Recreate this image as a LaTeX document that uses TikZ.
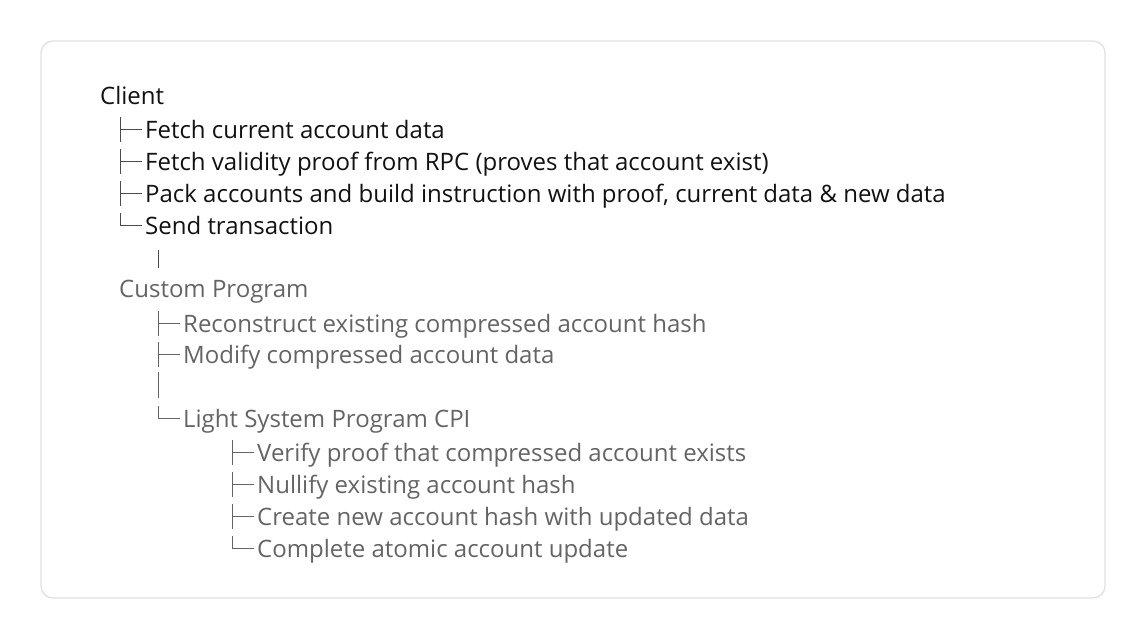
\documentclass[tikz,border=0pt]{standalone}
\usepackage{fontspec}
\setmainfont{Open Sans}
\usetikzlibrary{positioning}
\definecolor{treeink}{HTML}{111111}
\definecolor{treegray}{HTML}{646464}
\definecolor{treeframe}{HTML}{E0E0E0}
\newcommand{\rowfont}{\fontsize{24}{28}\selectfont}

\begin{document}
\begin{tikzpicture}[x=1pt,y=-1pt,
  frame/.style={draw=treeframe,line width=1.3pt,rounded corners=12pt,minimum width=1064pt,minimum height=557pt,inner sep=0pt},
  row/.style={anchor=base west,inner sep=0pt,font=\rowfont,text=#1},
  branch/.style={draw=#1,line width=0.9pt}
]
\useasboundingbox (0,0) rectangle (1146,639);
\node[frame] (box) at (573,319.5) {};
% client side
\node[row=treeink] (cl) at (100,104.5) {Client};
\node[row=treeink] (c1) at (145,138.5) {Fetch current account data};
\node[row=treeink] (c2) at (145,170.5) {Fetch validity proof from RPC (proves that account exist)};
\node[row=treeink] (c3) at (145,202.5) {Pack accounts and build instruction with proof, current data \& new data};
\node[row=treeink] (c4) at (145,234.5) {Send transaction};
% program side
\node[row=treegray] (cp) at (119,297.5) {Custom Program};
\node[row=treegray] (p1) at (183,332.5) {Reconstruct existing compressed account hash};
\node[row=treegray] (p2) at (183,363.5) {Modify compressed account data};
\node[row=treegray] (ls) at (183,427.5) {Light System Program CPI};
\node[row=treegray] (s1) at (257,461.5) {Verify proof that compressed account exists};
\node[row=treegray] (s2) at (257,493.5) {Nullify existing account hash};
\node[row=treegray] (s3) at (257,525.5) {Create new account hash with updated data};
\node[row=treegray] (s4) at (257,557.5) {Complete atomic account update};
% tees and elbows
\foreach \n in {c1,c2,c3}
  \draw[branch=treeink!75] ([shift={(-25pt,21.5pt)}]\n.base west) -- ([shift={(-25pt,-3.5pt)}]\n.base west)
    ([shift={(-25pt,9.5pt)}]\n.base west) -- ([shift={(-3pt,9.5pt)}]\n.base west);
\draw[branch=treeink!75] ([shift={(-25pt,21.5pt)}]c4.base west) |- ([shift={(-3pt,9.5pt)}]c4.base west);
\foreach \n in {p1,p2,s1,s2,s3}
  \draw[branch=treegray] ([shift={(-25pt,21.5pt)}]\n.base west) -- ([shift={(-25pt,-3.5pt)}]\n.base west)
    ([shift={(-25pt,9.5pt)}]\n.base west) -- ([shift={(-3pt,9.5pt)}]\n.base west);
\foreach \n in {ls,s4}
  \draw[branch=treegray] ([shift={(-25pt,21.5pt)}]\n.base west) |- ([shift={(-3pt,9.5pt)}]\n.base west);
% plain bars
\draw[branch=treeink!75] ([shift={(39pt,47.5pt)}]cp.base west) -- ([shift={(39pt,29.5pt)}]cp.base west);
\draw[branch=treegray] ([shift={(-25pt,55.5pt)}]ls.base west) -- ([shift={(-25pt,29.5pt)}]ls.base west);
\end{tikzpicture}
\end{document}
